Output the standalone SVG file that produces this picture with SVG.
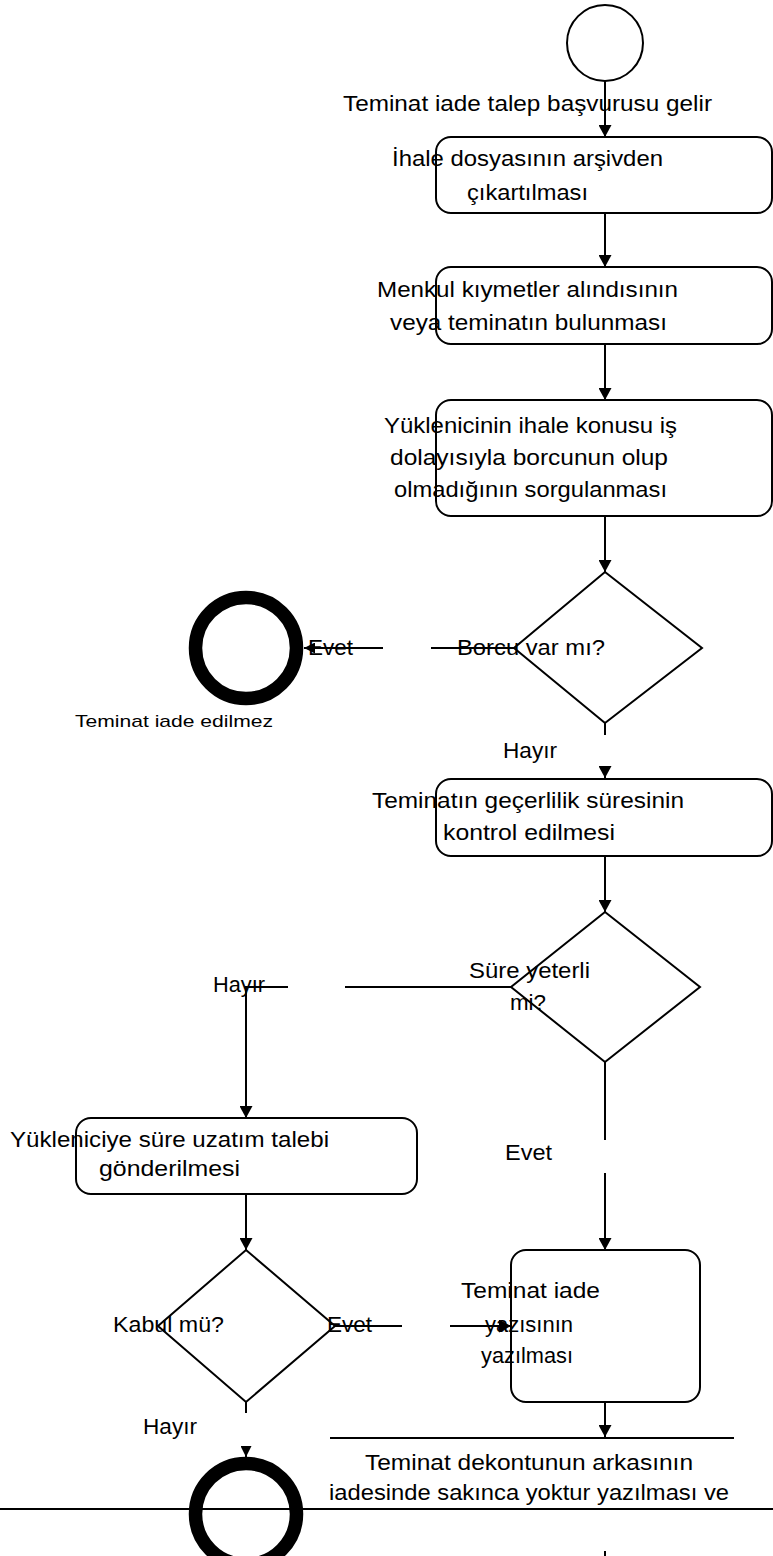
<svg xmlns="http://www.w3.org/2000/svg" width="773" height="1556" viewBox="0 0 773 1556">
<style>
  .shape { fill: none; stroke: #000; stroke-width: 2; }
  .end { fill: none; stroke: #000; stroke-width: 13.5; }
  .line { fill: none; stroke: #000; stroke-width: 2; }
  .t { font-family: "Liberation Sans", Arial, sans-serif; font-size: 22px; fill: #000; }
  .ts { font-family: "Liberation Sans", Arial, sans-serif; font-size: 17px; fill: #000; }
</style>
<defs>
  <marker id="arr" viewBox="0 0 12 13" refX="12" refY="6.5" markerWidth="12" markerHeight="13" markerUnits="userSpaceOnUse" orient="auto">
    <path d="M0,0 L12,6.5 L0,13 Z" fill="#000"/>
  </marker>
  <marker id="arrs" viewBox="0 0 11 11" refX="11" refY="5.5" markerWidth="11" markerHeight="11" markerUnits="userSpaceOnUse" orient="auto">
    <path d="M0,0 L11,5.5 L0,11 Z" fill="#000"/>
  </marker>
</defs>
<rect width="773" height="1556" fill="#fff"/>

<g id="connectors">
  <line class="line" x1="605" y1="81" x2="605" y2="137" marker-end="url(#arr)"/>
  <line class="line" x1="605" y1="213" x2="605" y2="267" marker-end="url(#arr)"/>
  <line class="line" x1="605" y1="344" x2="605" y2="400" marker-end="url(#arr)"/>
  <line class="line" x1="605" y1="516" x2="605" y2="572" marker-end="url(#arr)"/>
  <line class="line" x1="514" y1="648" x2="431" y2="648"/>
  <line class="line" x1="383" y1="648" x2="304" y2="648" marker-end="url(#arrs)"/>
  <line class="line" x1="605" y1="723" x2="605" y2="735"/>
  <line class="line" x1="605" y1="766" x2="605" y2="778" marker-end="url(#arr)"/>
  <line class="line" x1="605" y1="856" x2="605" y2="912" marker-end="url(#arr)"/>
  <line class="line" x1="511" y1="987" x2="345" y2="987"/>
  <polyline class="line" points="288,987 246,987 246,1118" marker-end="url(#arr)"/>
  <line class="line" x1="605" y1="1062" x2="605" y2="1140"/>
  <line class="line" x1="605" y1="1173" x2="605" y2="1250" marker-end="url(#arr)"/>
  <line class="line" x1="246" y1="1194" x2="246" y2="1250" marker-end="url(#arr)"/>
  <line class="line" x1="335" y1="1326" x2="402" y2="1326"/>
  <line class="line" x1="450" y1="1326" x2="511" y2="1326" marker-end="url(#arr)"/>
  <line class="line" x1="246" y1="1402" x2="246" y2="1413"/>
  <line class="line" x1="246" y1="1446" x2="246" y2="1457" marker-end="url(#arrs)"/>
  <line class="line" x1="605" y1="1402" x2="605" y2="1437" marker-end="url(#arr)"/>
  <line class="line" x1="330" y1="1438" x2="734" y2="1438"/>
  <line class="line" x1="0" y1="1509" x2="773" y2="1509" stroke-width="2.5"/>
  <line class="line" x1="605" y1="1551" x2="605" y2="1556"/>
</g>

<g id="start">
  <circle class="shape" cx="605" cy="43" r="38"/>
  <text class="t" x="343" y="111" textLength="369" lengthAdjust="spacingAndGlyphs">Teminat iade talep başvurusu gelir</text>
</g>

<g id="box1">
  <rect class="shape" x="436" y="137" width="336" height="76" rx="15"/>
  <text class="t" x="392" y="166" textLength="271" lengthAdjust="spacingAndGlyphs">İhale dosyasının arşivden</text>
  <text class="t" x="467" y="200" textLength="121" lengthAdjust="spacingAndGlyphs">çıkartılması</text>
</g>

<g id="box2">
  <rect class="shape" x="436" y="267" width="336" height="77" rx="15"/>
  <text class="t" x="377" y="297" textLength="301" lengthAdjust="spacingAndGlyphs">Menkul kıymetler alındısının</text>
  <text class="t" x="390" y="330" textLength="277" lengthAdjust="spacingAndGlyphs">veya teminatın bulunması</text>
</g>

<g id="box3">
  <rect class="shape" x="436" y="400" width="336" height="116" rx="15"/>
  <text class="t" x="384" y="433" textLength="293" lengthAdjust="spacingAndGlyphs">Yüklenicinin ihale konusu iş</text>
  <text class="t" x="390" y="465" textLength="278" lengthAdjust="spacingAndGlyphs">dolayısıyla borcunun olup</text>
  <text class="t" x="394" y="497" textLength="273" lengthAdjust="spacingAndGlyphs">olmadığının sorgulanması</text>
</g>

<g id="decision1">
  <polygon class="shape" points="605,572 702,648 605,723 514,648"/>
  <text class="t" x="457" y="655" textLength="148" lengthAdjust="spacingAndGlyphs">Borcu var mı?</text>
  <text class="t" x="308" y="655" textLength="45" lengthAdjust="spacingAndGlyphs">Evet</text>
  <text class="t" x="503" y="758" textLength="54" lengthAdjust="spacingAndGlyphs">Hayır</text>
</g>

<g id="end1">
  <circle class="end" cx="246" cy="648" r="50.5"/>
  <text class="ts" x="75" y="727" textLength="198" lengthAdjust="spacingAndGlyphs">Teminat iade edilmez</text>
</g>

<g id="box4">
  <rect class="shape" x="436" y="779" width="336" height="77" rx="15"/>
  <text class="t" x="372" y="808" textLength="312" lengthAdjust="spacingAndGlyphs">Teminatın geçerlilik süresinin</text>
  <text class="t" x="443" y="840" textLength="172" lengthAdjust="spacingAndGlyphs">kontrol edilmesi</text>
</g>

<g id="decision2">
  <polygon class="shape" points="605,912 700,987 605,1062 511,987"/>
  <text class="t" x="469" y="978" textLength="121" lengthAdjust="spacingAndGlyphs">Süre yeterli</text>
  <text class="t" x="510" y="1010" textLength="36" lengthAdjust="spacingAndGlyphs">mi?</text>
  <text class="t" x="213" y="992" textLength="52" lengthAdjust="spacingAndGlyphs">Hayır</text>
  <text class="t" x="505" y="1160" textLength="47" lengthAdjust="spacingAndGlyphs">Evet</text>
</g>

<g id="box5">
  <rect class="shape" x="76" y="1118" width="341" height="76" rx="15"/>
  <text class="t" x="10" y="1147" textLength="319" lengthAdjust="spacingAndGlyphs">Yükleniciye süre uzatım talebi</text>
  <text class="t" x="99" y="1176" textLength="141" lengthAdjust="spacingAndGlyphs">gönderilmesi</text>
</g>

<g id="decision3">
  <polygon class="shape" points="246,1250 335,1326 246,1402 158,1326"/>
  <text class="t" x="113" y="1332" textLength="111" lengthAdjust="spacingAndGlyphs">Kabul mü?</text>
  <text class="t" x="327" y="1332" textLength="45" lengthAdjust="spacingAndGlyphs">Evet</text>
  <text class="t" x="143" y="1434" textLength="54" lengthAdjust="spacingAndGlyphs">Hayır</text>
</g>

<g id="box6">
  <rect class="shape" x="511" y="1250" width="189" height="152" rx="15"/>
  <text class="t" x="461" y="1298" textLength="139" lengthAdjust="spacingAndGlyphs">Teminat iade</text>
  <text class="t" x="485" y="1332" textLength="88" lengthAdjust="spacingAndGlyphs">yazısının</text>
  <text class="t" x="481" y="1363" textLength="92" lengthAdjust="spacingAndGlyphs">yazılması</text>
</g>

<g id="end2">
  <circle class="end" cx="246" cy="1514" r="50.5"/>
</g>

<g id="final-note">
  <text class="t" x="365" y="1470" textLength="328" lengthAdjust="spacingAndGlyphs">Teminat dekontunun arkasının</text>
  <text class="t" x="329" y="1500" textLength="400" lengthAdjust="spacingAndGlyphs">iadesinde sakınca yoktur yazılması ve</text>
</g>
</svg>
